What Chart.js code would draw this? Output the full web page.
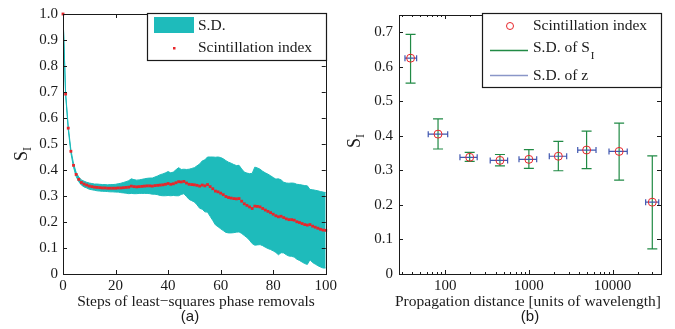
<!DOCTYPE html>
<html lang="en">
<head>
<meta charset="UTF-8">
<title>Scintillation index</title>
<style>
  body { margin: 0; background: #fff; }
  #wrap { position: relative; width: 675px; height: 329px; }
  .panel { position: absolute; top: 0; }
  #panelA { left: 0; }
  #panelB { left: 340px; }
</style>
</head>
<body>
<div id="wrap">
  <div class="panel" id="panelA"><canvas id="chartA" width="340" height="329"></canvas></div>
  <div class="panel" id="panelB"><canvas id="chartB" width="335" height="329"></canvas></div>
</div>
<script src="https://cdn.jsdelivr.net/npm/chart.js"></script>
<script>
// ---- panel (a): scintillation index vs. removal steps (0..100) ----
const si = [
  1.000, 0.692, 0.561, 0.472, 0.418, 0.383, 0.364, 0.352, 0.346, 0.342,
  0.338, 0.336, 0.334, 0.333, 0.332, 0.331, 0.331, 0.330, 0.330, 0.330,
  0.330, 0.331, 0.331, 0.332, 0.333, 0.334, 0.338, 0.336, 0.335, 0.336,
  0.337, 0.338, 0.339, 0.339, 0.338, 0.340, 0.341, 0.342, 0.343, 0.345,
  0.348, 0.345, 0.347, 0.351, 0.355, 0.354, 0.356, 0.350, 0.345, 0.344,
  0.343, 0.341, 0.338, 0.342, 0.339, 0.344, 0.336, 0.328, 0.319, 0.316,
  0.311, 0.305, 0.298, 0.294, 0.292, 0.290, 0.289, 0.290, 0.280, 0.270,
  0.264, 0.258, 0.252, 0.261, 0.260, 0.258, 0.252, 0.246, 0.241, 0.236,
  0.230, 0.224, 0.220, 0.222, 0.217, 0.212, 0.209, 0.209, 0.207, 0.201,
  0.198, 0.194, 0.190, 0.188, 0.190, 0.184, 0.180, 0.176, 0.172, 0.169,
  0.168
];
const sd = [
  0.000, 0.004, 0.005, 0.006, 0.007, 0.008, 0.009, 0.010, 0.011, 0.011,
  0.012, 0.012, 0.012, 0.013, 0.013, 0.013, 0.013, 0.013, 0.014, 0.014,
  0.015, 0.016, 0.018, 0.020, 0.022, 0.025, 0.028, 0.027, 0.026, 0.026,
  0.027, 0.028, 0.029, 0.030, 0.031, 0.033, 0.036, 0.040, 0.042, 0.044,
  0.046, 0.044, 0.045, 0.050, 0.054, 0.048, 0.047, 0.052, 0.058, 0.062,
  0.066, 0.075, 0.085, 0.093, 0.100, 0.106, 0.114, 0.122, 0.130, 0.134,
  0.137, 0.138, 0.138, 0.136, 0.134, 0.131, 0.128, 0.128, 0.124, 0.122,
  0.124, 0.128, 0.135, 0.150, 0.148, 0.145, 0.143, 0.143, 0.143, 0.142,
  0.141, 0.141, 0.146, 0.140, 0.136, 0.138, 0.140, 0.141, 0.142, 0.144,
  0.146, 0.148, 0.150, 0.151, 0.135, 0.140, 0.142, 0.144, 0.145, 0.146,
  0.145
];
const xTicksA = [0, 20, 40, 60, 80, 100];
const yTicksA = [0, 0.1, 0.2, 0.3, 0.4, 0.5, 0.6, 0.7, 0.8, 0.9, 1.0];

// ---- panel (b): scintillation index vs. propagation distance ----
const zDist  = [38.5, 82, 196, 451, 1000, 2250, 4900, 12000, 29900];
const zLow   = [33, 62.6, 150, 345, 762, 1754, 3837, 9080, 24900];
const zHigh  = [45.5, 107, 241, 557, 1240, 2832, 6350, 15000, 35700];
const siMean = [0.625, 0.405, 0.338, 0.329, 0.332, 0.341, 0.359, 0.355, 0.208];
const siLow  = [0.553, 0.362, 0.326, 0.313, 0.306, 0.299, 0.305, 0.272, 0.073];
const siHigh = [0.694, 0.449, 0.352, 0.346, 0.360, 0.384, 0.414, 0.437, 0.342];
const xTicksB = [100, 1000, 10000];
const yTicksB = [0, 0.1, 0.2, 0.3, 0.4, 0.5, 0.6, 0.7];

const SERIF = '"Liberation Serif", "Times New Roman", serif';
const SANS = '"Liberation Sans", Arial, sans-serif';
const CYAN = '#1ebbbb';
const RED = '#e8262b';
const GREEN = '#218a45';
const BLUE = '#4057b0';
const INK = '#1a1a1a';
const LABEL_FONT = '15.5px ' + SERIF;

function frameAndTicks(chart, minorX) {
  const ctx = chart.ctx;
  const a = chart.chartArea;
  const xs = chart.scales.x, ys = chart.scales.y;
  ctx.save();
  ctx.strokeStyle = INK;
  ctx.lineWidth = 1;
  ctx.strokeRect(Math.round(a.left) + 0.5, Math.round(a.top) + 0.5,
                 Math.round(a.right - a.left), Math.round(a.bottom - a.top));
  ctx.beginPath();
  ys.ticks.forEach(t => {
    const py = Math.round(ys.getPixelForValue(t.value)) + 0.5;
    ctx.moveTo(a.left, py); ctx.lineTo(a.left + 4, py);
    ctx.moveTo(a.right, py); ctx.lineTo(a.right - 4, py);
  });
  xs.ticks.forEach(t => {
    const px = Math.round(xs.getPixelForValue(t.value)) + 0.5;
    ctx.moveTo(px, a.bottom); ctx.lineTo(px, a.bottom - 4);
    ctx.moveTo(px, a.top); ctx.lineTo(px, a.top + 4);
  });
  if (minorX) {
    for (let dec = 10; dec <= 10000; dec *= 10) {
      for (let m = 2; m <= 9; m++) {
        const v = dec * m;
        if (v < xs.min || v > xs.max) continue;
        const px = Math.round(xs.getPixelForValue(v)) + 0.5;
        ctx.moveTo(px, a.bottom); ctx.lineTo(px, a.bottom - 2);
        ctx.moveTo(px, a.top); ctx.lineTo(px, a.top + 2);
      }
    }
  }
  ctx.stroke();
  ctx.restore();
}

function yTitle(ctx, x, y) {
  ctx.save();
  ctx.translate(x, y);
  ctx.rotate(-Math.PI / 2);
  ctx.fillStyle = INK;
  ctx.textBaseline = 'middle';
  ctx.textAlign = 'left';
  ctx.font = '18px ' + SERIF;
  ctx.fillText('S', -8, 0);
  ctx.font = '12px ' + SERIF;
  ctx.fillText('I', 2, 6);
  ctx.restore();
}

function text(ctx, str, x, y, font, align) {
  ctx.save();
  ctx.fillStyle = INK;
  ctx.font = font;
  ctx.textAlign = align || 'center';
  ctx.textBaseline = 'middle';
  ctx.fillText(str, x, y);
  ctx.restore();
}

function legendBox(ctx, x1, y1, x2, y2) {
  ctx.save();
  ctx.fillStyle = '#fff';
  ctx.fillRect(x1, y1, x2 - x1, y2 - y1);
  ctx.strokeStyle = INK;
  ctx.lineWidth = 1.2;
  ctx.strokeRect(x1 + 0.5, y1 + 0.5, x2 - x1, y2 - y1);
  ctx.restore();
}

const decorA = {
  id: 'decorA',
  afterDraw(chart) {
    const ctx = chart.ctx;
    frameAndTicks(chart, false);
    yTitle(ctx, 22, 153);
    text(ctx, 'Steps of least\u2212squares phase removals', 196, 302, LABEL_FONT);
    text(ctx, '(a)', 190, 317, '15px ' + SANS);
    // legend
    legendBox(ctx, 147, 13, 326, 60);
    ctx.fillStyle = CYAN;
    ctx.fillRect(154, 17, 40, 16);
    ctx.fillStyle = RED;
    ctx.fillRect(173, 47, 2.5, 2.5);
    text(ctx, 'S.D.', 198, 26, LABEL_FONT, 'left');
    text(ctx, 'Scintillation index', 198, 48, LABEL_FONT, 'left');
  }
};

const decorB = {
  id: 'decorB',
  beforeDatasetsDraw(chart) {
    const ctx = chart.ctx;
    const xs = chart.scales.x, ys = chart.scales.y;
    ctx.save();
    ctx.lineWidth = 1.2;
    zDist.forEach((z, i) => {
      const px = xs.getPixelForValue(z);
      const py = ys.getPixelForValue(siMean[i]);
      const yl = ys.getPixelForValue(siLow[i]);
      const yh = ys.getPixelForValue(siHigh[i]);
      ctx.strokeStyle = GREEN;
      ctx.beginPath();
      ctx.moveTo(px, yl); ctx.lineTo(px, yh);
      ctx.moveTo(px - 5, yl); ctx.lineTo(px + 5, yl);
      ctx.moveTo(px - 5, yh); ctx.lineTo(px + 5, yh);
      ctx.stroke();
      const xl = xs.getPixelForValue(zLow[i]);
      const xh = xs.getPixelForValue(zHigh[i]);
      ctx.strokeStyle = BLUE;
      ctx.beginPath();
      ctx.moveTo(xl, py); ctx.lineTo(xh, py);
      ctx.moveTo(xl, py - 3); ctx.lineTo(xl, py + 3);
      ctx.moveTo(xh, py - 3); ctx.lineTo(xh, py + 3);
      ctx.stroke();
    });
    ctx.restore();
  },
  afterDraw(chart) {
    const ctx = chart.ctx;
    frameAndTicks(chart, true);
    yTitle(ctx, 15, 140);
    text(ctx, 'Propagation distance [units of wavelength]', 188, 302, LABEL_FONT);
    text(ctx, '(b)', 190, 317, '15px ' + SANS);
    // legend
    legendBox(ctx, 142, 13, 321, 87);
    ctx.save();
    ctx.strokeStyle = RED;
    ctx.lineWidth = 1;
    ctx.beginPath();
    ctx.arc(170, 26, 3.5, 0, Math.PI * 2);
    ctx.stroke();
    ctx.lineWidth = 1.3;
    ctx.strokeStyle = GREEN;
    ctx.beginPath(); ctx.moveTo(150, 50.5); ctx.lineTo(188, 50.5); ctx.stroke();
    ctx.strokeStyle = '#8a96c8';
    ctx.beginPath(); ctx.moveTo(150, 75.5); ctx.lineTo(188, 75.5); ctx.stroke();
    ctx.restore();
    text(ctx, 'Scintillation index', 193, 26, LABEL_FONT, 'left');
    text(ctx, 'S.D. of S', 193, 48, LABEL_FONT, 'left');
    ctx.save();
    ctx.font = LABEL_FONT;
    const w = ctx.measureText('S.D. of S').width;
    ctx.restore();
    text(ctx, 'I', 194 + w, 56, '11px ' + SERIF, 'left');
    text(ctx, 'S.D. of z', 193, 76, LABEL_FONT, 'left');
  }
};

const tickFont = { family: SERIF, size: 15 };
const fmtY = v => (v === 0 ? '0' : Number(v).toFixed(1));

const steps = si.map((_, i) => i);
const upper = si.map((v, i) => v + sd[i]);
const lower = si.map((v, i) => v - sd[i]);

new Chart(document.getElementById('chartA'), {
  type: 'line',
  data: {
    datasets: [
      {
        label: 'S.D.',
        data: steps.map((s, i) => ({ x: s, y: upper[i] })),
        borderColor: CYAN, backgroundColor: CYAN, borderWidth: 1,
        pointRadius: 0, fill: '+1', tension: 0, order: 2
      },
      {
        label: 'S.D. low',
        data: steps.map((s, i) => ({ x: s, y: lower[i] })),
        borderColor: CYAN, borderWidth: 1, pointRadius: 0, fill: false, tension: 0, order: 1
      },
      {
        label: 'Scintillation index',
        data: steps.map((s, i) => ({ x: s, y: si[i] })),
        showLine: false, pointStyle: 'rect', pointRadius: 2,
        pointBackgroundColor: RED, pointBorderWidth: 0, clip: false, order: 0
      }
    ]
  },
  options: {
    responsive: false,
    animation: false,
    layout: { padding: { left: 0, top: 13, right: 14, bottom: 0 } },
    plugins: { legend: { display: false }, tooltip: { enabled: false } },
    scales: {
      x: {
        type: 'linear', min: 0, max: 100,
        afterBuildTicks: s => { s.ticks = xTicksA.map(v => ({ value: v })); },
        afterFit: s => { s.height = 55; },
        grid: { display: false, drawTicks: false },
        border: { display: false },
        ticks: { font: tickFont, color: INK, padding: 3, maxRotation: 0, callback: v => String(v) }
      },
      y: {
        min: 0, max: 1,
        afterBuildTicks: s => { s.ticks = yTicksA.map(v => ({ value: v })); },
        afterFit: s => { s.width = 63; },
        grid: { display: false, drawTicks: false },
        border: { display: false },
        ticks: { font: tickFont, color: INK, padding: 5, callback: fmtY }
      }
    }
  },
  plugins: [decorA]
});

new Chart(document.getElementById('chartB'), {
  type: 'scatter',
  data: {
    datasets: [{
      label: 'Scintillation index',
      data: zDist.map((z, i) => ({ x: z, y: siMean[i] })),
      pointStyle: 'circle', pointRadius: 4,
      pointBorderColor: RED, pointBackgroundColor: 'rgba(0,0,0,0)', pointBorderWidth: 1
    }]
  },
  options: {
    responsive: false,
    animation: false,
    layout: { padding: { left: 0, top: 13, right: 14, bottom: 0 } },
    plugins: { legend: { display: false }, tooltip: { enabled: false } },
    scales: {
      x: {
        type: 'logarithmic', min: 28, max: 38000,
        afterBuildTicks: s => { s.ticks = xTicksB.map(v => ({ value: v })); },
        afterFit: s => { s.height = 55; },
        grid: { display: false, drawTicks: false },
        border: { display: false },
        ticks: { font: tickFont, color: INK, padding: 3, maxRotation: 0, callback: v => String(v) }
      },
      y: {
        min: 0, max: 0.75,
        afterBuildTicks: s => { s.ticks = yTicksB.map(v => ({ value: v })); },
        afterFit: s => { s.width = 59; },
        grid: { display: false, drawTicks: false },
        border: { display: false },
        ticks: { font: tickFont, color: INK, padding: 6, callback: fmtY }
      }
    }
  },
  plugins: [decorB]
});
</script>
</body>
</html>
